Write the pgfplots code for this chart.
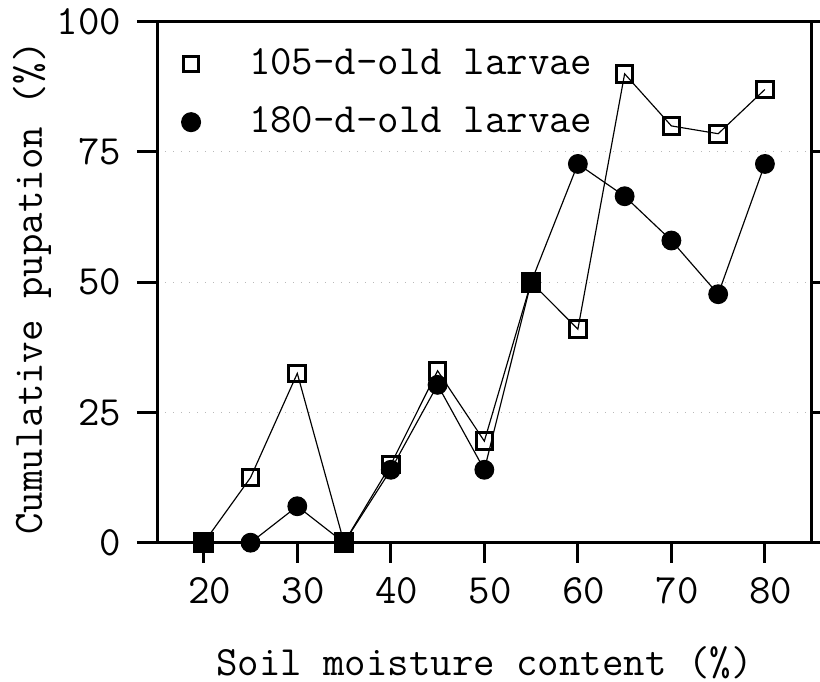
\documentclass[border=0pt]{standalone}
\usepackage{pgfplots}
\pgfplotsset{compat=1.18}
\newcommand{\lf}{\fontsize{12.5}{14}\selectfont\ttfamily}
\begin{document}
\begin{tikzpicture}
\begin{axis}[
  scale only axis,
  width=196.41pt, height=156.3pt,
  xmin=15, xmax=85, ymin=0, ymax=100,
  xtick={20,30,40,50,60,70,80},
  ytick={0,25,50,75,100},
  xtick pos=bottom, ytick pos=both, yticklabel pos=left,
  tick align=outside,
  major tick length=6pt,
  every tick/.style={black, line width=0.9pt},
  axis line style={line width=0.9pt},
  /pgf/number format/assume math mode=true,
  ticklabel style={font=\lf},
  xticklabel style={xshift=1.8pt, yshift=-1pt},
  yticklabel style={xshift=-1.2pt},
  ymajorgrids,
  grid style={dotted, gray!55, line width=0.3pt},
  every axis x label/.style={at={(axis description cs:0.5,-0.2539)}, anchor=base, font=\lf},
  every axis y label/.style={at={(axis description cs:-0.1757,0.489)}, rotate=90, anchor=base, font=\lf},
  xlabel={Soil moisture content (\%)},
  ylabel={Cumulative pupation (\%)},
  legend style={at={(axis description cs:0.0215,0.975)}, anchor=north west, draw=none, fill=none, font=\lf, row sep=4.1pt, column sep=12.6pt},
  legend cell align=left,
]
\addplot[forget plot, black, line width=0.35pt, mark=square, mark size=2.5pt,
  mark options={fill=white, line width=0.9pt, solid}]
  coordinates {(20,0)(25,12.5)(30,32.5)(35,0)(40,15)(45,33)(50,19.5)(55,50)(60,41)(65,90)(70,80)(75,78.5)(80,87)};
\addplot[forget plot, black, line width=0.35pt, mark=*, mark size=2.8pt,
  mark options={fill=black, solid}]
  coordinates {(20,0)(25,0)(30,7)(35,0)(40,14)(45,30.3)(50,14)(55,50)(60,72.7)(65,66.5)(70,58)(75,47.7)(80,72.7)};
\addplot[forget plot, only marks, black, mark=square*, mark size=2.9pt]
  coordinates {(20,0)(35,0)(55,50)};
\addlegendimage{only marks, black, mark=square, mark size=2.3pt, mark options={line width=0.9pt}}
\addlegendentry{105-d-old larvae}
\addlegendimage{only marks, black, mark=*, mark size=2.8pt}
\addlegendentry{180-d-old larvae}
\end{axis}
\pgfresetboundingbox
\path (-47.1pt,-41.49pt) rectangle (198.9pt,162.81pt);
\end{tikzpicture}
\end{document}
